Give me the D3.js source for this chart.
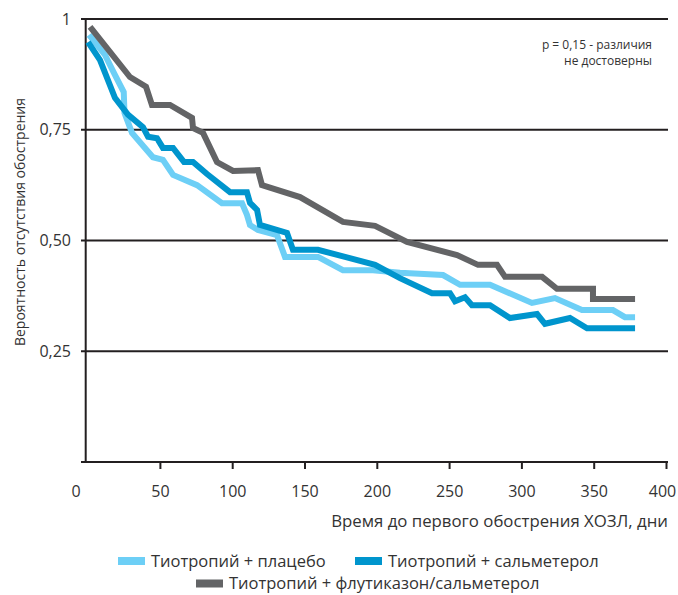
<!DOCTYPE html>
<html><head><meta charset="utf-8">
<script src="https://cdn.jsdelivr.net/npm/d3@7"></script>
<style>body{margin:0;background:#fff}svg{display:block}text{font-family:"Open Sans",sans-serif;fill:#333}</style>
</head><body><div id="chart"></div>
<script>
const seriesNames = ["Тиотропий + плацебо", "Тиотропий + сальметерол", "Тиотропий + флутиказон/сальметерол"];
const placeboDays = [1,12,18.9,25,25.5,30.7,45.2,52.1,59.1,75.7,92.9,106.8,110.2,112.3,117.8,131,136.5,159.3,176.6,197.4,216,245.8,257.6,278.3,307.3,323.2,341.9,363.3,371.6,378.6];
const placeboVals = [0.964,0.919,0.874,0.835,0.788,0.743,0.688,0.682,0.648,0.625,0.584,0.584,0.558,0.535,0.524,0.512,0.463,0.463,0.433,0.433,0.427,0.422,0.400,0.400,0.359,0.370,0.343,0.343,0.327,0.327];
const salmDays = [0.3,8.6,18.9,27.9,38.3,41.8,48,52.1,59.1,66.7,72.9,82.6,98.5,110.2,112.3,117.2,119.2,137.9,142,159.3,178,198.8,216,238.2,250.6,254.1,261,265.8,278.3,292.1,310.8,316.3,333.6,345.4,378.6];
const salmVals = [0.948,0.907,0.822,0.784,0.756,0.734,0.731,0.709,0.709,0.677,0.677,0.650,0.609,0.609,0.585,0.569,0.535,0.517,0.479,0.479,0.463,0.445,0.415,0.381,0.381,0.363,0.372,0.354,0.354,0.325,0.334,0.312,0.325,0.302,0.302];
const flutDays = [1.7,29.3,40.4,44.5,57,72.2,72.9,79.8,89.5,100.6,117.8,120.6,146.9,176.6,198.8,220.9,255.5,270,283.1,288.7,314.3,324.6,349.5,349.5,378.6];
const flutVals = [0.982,0.869,0.847,0.806,0.806,0.777,0.754,0.743,0.677,0.657,0.659,0.625,0.598,0.542,0.533,0.497,0.467,0.445,0.445,0.418,0.418,0.391,0.391,0.368,0.368];
const colors = ["#6dcff6", "#0095cd", "#636466"];
const xTicks = [0,50,100,150,200,250,300,350,400];
const yTicks = [0.25,0.5,0.75,1];
const yTickLabels = ["0,25","0,50","0,75","1"];
const xTitle = "Время до первого обострения ХОЗЛ, дни";
const yTitle = "Вероятность отсутствия обострения";
const note = ["p = 0,15 - различия", "не достоверны"];

const W = 678, H = 595;
const svg = d3.select("#chart").append("svg").attr("width", W).attr("height", H);
const x = d3.scaleLinear().domain([0,400]).range([87.6,666]);
const y = d3.scaleLinear().domain([0,1]).range([462,19]);
const axisLeftX = 85.7, rightX = 668;

// gridlines
svg.append("g").selectAll("line").data(yTicks).join("line")
  .attr("x1", 81).attr("x2", rightX).attr("y1", d=>y(d)).attr("y2", d=>y(d))
  .attr("stroke", "#231f20").attr("stroke-width", 2);
// y tick labels
svg.append("g").selectAll("text").data(yTicks).join("text")
  .attr("x", 71).attr("y", d=>y(d)).attr("dy","0.35em").attr("text-anchor","end")
  .attr("font-size", 16).text((d,i)=>yTickLabels[i]);

// x axis
const xAxis = d3.axisBottom(x).tickValues(xTicks).tickSize(7).tickFormat(d=>d);
const gx = svg.append("g").attr("transform", `translate(0,${y(0)})`).call(xAxis);
gx.select(".domain").remove();
gx.selectAll(".tick line").attr("stroke","#231f20").attr("stroke-width",2);
gx.selectAll(".tick text").attr("font-size",16).attr("font-family","Open Sans").attr("fill","#333").attr("y",24);
gx.selectAll(".tick").filter(d=>d===0).select("text").attr("x",-12);
gx.selectAll(".tick").filter(d=>d===400).select("text").attr("x",-4);
gx.selectAll(".tick").filter(d=>d===0).select("line").remove();
svg.append("line").attr("x1",81).attr("x2",rightX).attr("y1",y(0)).attr("y2",y(0)).attr("stroke","#231f20").attr("stroke-width",2);
svg.append("line").attr("x1",axisLeftX).attr("x2",axisLeftX).attr("y1",y(1)-1).attr("y2",y(0)+1).attr("stroke","#231f20").attr("stroke-width",2);

// titles
svg.append("text").attr("x", rightX).attr("y", 521).attr("dy","0.35em").attr("text-anchor","end").attr("font-size",16.8).text(xTitle);
svg.append("text").attr("transform","translate(20,222) rotate(-90)").attr("dy","0.35em").attr("text-anchor","middle").attr("font-size",14).text(yTitle);
svg.append("text").attr("x",652).attr("y",45).attr("dy","0.35em").attr("text-anchor","end").attr("font-size",12).text(note[0]);
svg.append("text").attr("x",652).attr("y",61).attr("dy","0.35em").attr("text-anchor","end").attr("font-size",12).text(note[1]);

// lines
const line = d3.line().x(d=>x(d[0])).y(d=>y(d[1]));
const series = [
  d3.zip(placeboDays, placeboVals),
  d3.zip(salmDays, salmVals),
  d3.zip(flutDays, flutVals)
];
svg.append("g").selectAll("path").data(series).join("path")
  .attr("d", line).attr("fill","none").attr("stroke",(d,i)=>colors[i])
  .attr("stroke-width",6).attr("stroke-linejoin","miter").attr("stroke-miterlimit",2);

// legend
const leg = [
  {i:0, sx:118, y:561, tx:151},
  {i:1, sx:355, y:561, tx:388},
  {i:2, sx:196, y:583.5, tx:229}
];
const lg = svg.append("g");
lg.selectAll("rect").data(leg).join("rect")
  .attr("x",d=>d.sx).attr("y",d=>d.y-4).attr("width",27).attr("height",8).attr("fill",d=>colors[d.i]);
lg.selectAll("text").data(leg).join("text")
  .attr("x",d=>d.tx).attr("y",d=>d.y).attr("dy","0.35em").attr("font-size",16.5).text(d=>seriesNames[d.i]);
</script></body></html>
